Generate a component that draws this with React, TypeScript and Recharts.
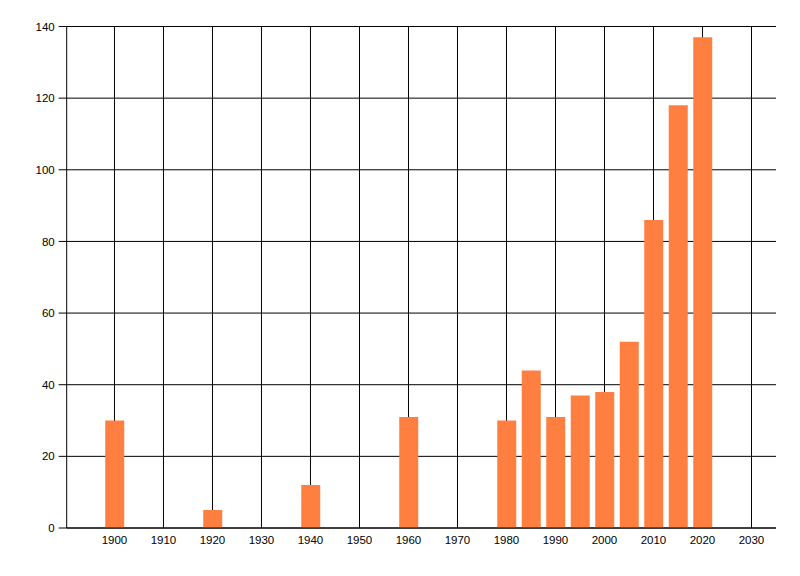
import React from "react";
import { BarChart, Bar, XAxis, YAxis, CartesianGrid } from "recharts";

const years = [1900, 1920, 1940, 1960, 1980, 1985, 1990, 1995, 2000, 2005, 2010, 2015, 2020];
const counts = [30, 5, 12, 31, 30, 44, 31, 37, 38, 52, 86, 118, 137];
const xTicks = [1900, 1910, 1920, 1930, 1940, 1950, 1960, 1970, 1980, 1990, 2000, 2010, 2020, 2030];
const yTicks = [0, 20, 40, 60, 80, 100, 120, 140];
const xDomain = [1890.25, 2035];

const data = years.map((y, i) => ({ year: y, value: counts[i] }));

const tickStyle = { fill: "#000", fontSize: 11.5, fontFamily: "Liberation Sans, Arial, sans-serif" };

const verticalGen = (props: any) => {
  const { offset } = props;
  return xTicks.map(
    (t) => offset.left + ((t - xDomain[0]) / (xDomain[1] - xDomain[0])) * offset.width
  );
};

export default function App() {
  return (
    <BarChart
      width={784}
      height={560}
      data={data}
      margin={{ top: 18.5, right: 16, bottom: 10, left: 0 }}
    >
      <CartesianGrid stroke="#000" strokeWidth={1} verticalCoordinatesGenerator={verticalGen} />
      <XAxis
        dataKey="year"
        type="number"
        domain={xDomain}
        ticks={xTicks}
        allowDataOverflow
        tickLine={false}
        tickSize={6}
        tickMargin={2}
        height={30}
        axisLine={{ stroke: "#000" }}
        tick={tickStyle}
        interval={0}
      />
      <YAxis
        domain={[0, 140]}
        ticks={yTicks}
        width={58.7}
        tickSize={8}
        tickMargin={4}
        tickLine={{ stroke: "#000" }}
        axisLine={{ stroke: "#000" }}
        tick={tickStyle}
        interval={0}
      />
      <Bar dataKey="value" fill="#FF7F41" barSize={19} isAnimationActive={false} />
    </BarChart>
  );
}
